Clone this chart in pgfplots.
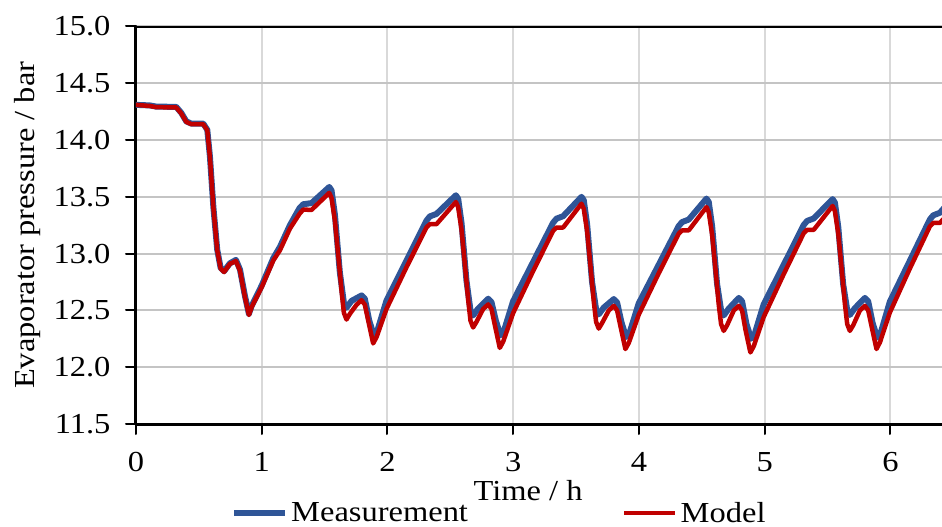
\documentclass[border=0pt]{standalone}
\usepackage{fontspec}
\setmainfont{Liberation Serif}[FakeStretch=1.12]
\usepackage{pgfplots}
\pgfplotsset{compat=1.18}
\definecolor{mblue}{RGB}{47,85,151}
\definecolor{mred}{RGB}{192,0,0}
\definecolor{vgrid}{RGB}{217,217,217}
\definecolor{hgrid}{RGB}{196,196,196}

\pgfplotstableread{
x y
0 14.310
0.11 14.305
0.16 14.295
0.32 14.292
0.36 14.240
0.40 14.165
0.44 14.145
0.535 14.145
0.567 14.090
0.588 13.855
0.615 13.415
0.646 13.035
0.673 12.875
0.700 12.845
0.747 12.915
0.795 12.945
0.827 12.860
0.866 12.630
0.898 12.470
0.920 12.540
1.000 12.720
1.092 12.960
1.145 13.060
1.224 13.250
1.300 13.400
1.330 13.435
1.396 13.445
1.537 13.587
1.555 13.557
1.582 13.342
1.621 12.837
1.653 12.569
1.674 12.524
1.714 12.584
1.794 12.632
1.820 12.602
1.855 12.410
1.892 12.280
1.919 12.320
1.992 12.587
2.151 12.938
2.310 13.291
2.337 13.328
2.390 13.350
2.544 13.514
2.562 13.484
2.589 13.269
2.628 12.764
2.660 12.501
2.681 12.456
2.721 12.516
2.801 12.603
2.827 12.573
2.862 12.410
2.899 12.280
2.926 12.319
2.999 12.581
3.158 12.926
3.317 13.272
3.344 13.308
3.397 13.330
3.543 13.500
3.561 13.470
3.588 13.255
3.627 12.750
3.659 12.510
3.680 12.465
3.720 12.525
3.800 12.600
3.826 12.570
3.861 12.395
3.898 12.265
3.925 12.303
3.998 12.562
4.157 12.902
4.316 13.243
4.343 13.278
4.396 13.300
4.537 13.485
4.555 13.455
4.582 13.240
4.621 12.735
4.653 12.501
4.674 12.456
4.714 12.516
4.794 12.610
4.820 12.580
4.855 12.380
4.892 12.250
4.919 12.289
4.992 12.554
5.151 12.902
5.310 13.252
5.337 13.288
5.390 13.310
5.540 13.480
5.558 13.450
5.585 13.235
5.624 12.730
5.656 12.505
5.677 12.460
5.717 12.520
5.797 12.610
5.823 12.580
5.858 12.390
5.895 12.260
5.922 12.301
5.995 12.576
6.154 12.937
6.313 13.300
6.340 13.337
6.393 13.360
6.450 13.430
}\measdata

\pgfplotstableread{
x y
0 14.310
0.11 14.300
0.16 14.290
0.32 14.287
0.36 14.235
0.40 14.160
0.44 14.140
0.535 14.140
0.567 14.087
0.588 13.850
0.615 13.410
0.646 13.030
0.673 12.868
0.700 12.838
0.747 12.910
0.795 12.935
0.827 12.850
0.866 12.620
0.898 12.460
0.920 12.530
1.000 12.705
1.092 12.940
1.145 13.030
1.224 13.220
1.300 13.350
1.330 13.388
1.396 13.385
1.537 13.535
1.555 13.490
1.582 13.290
1.608 12.990
1.635 12.670
1.653 12.480
1.674 12.420
1.701 12.470
1.754 12.550
1.794 12.590
1.820 12.550
1.847 12.410
1.886 12.210
1.913 12.265
1.992 12.513
2.151 12.880
2.310 13.231
2.337 13.260
2.390 13.260
2.544 13.455
2.562 13.410
2.589 13.210
2.615 12.910
2.642 12.590
2.660 12.410
2.681 12.350
2.708 12.400
2.761 12.513
2.801 12.553
2.827 12.513
2.854 12.370
2.893 12.170
2.920 12.225
2.999 12.476
3.158 12.846
3.317 13.200
3.344 13.230
3.397 13.230
3.543 13.440
3.561 13.395
3.588 13.195
3.614 12.895
3.641 12.575
3.659 12.400
3.680 12.340
3.707 12.390
3.760 12.500
3.800 12.540
3.826 12.500
3.853 12.360
3.892 12.160
3.919 12.214
3.998 12.462
4.157 12.827
4.316 13.176
4.343 13.205
4.396 13.205
4.537 13.410
4.555 13.365
4.582 13.165
4.608 12.865
4.635 12.545
4.653 12.380
4.674 12.320
4.701 12.370
4.754 12.500
4.794 12.540
4.820 12.500
4.847 12.330
4.886 12.130
4.913 12.186
4.992 12.442
5.151 12.819
5.310 13.180
5.337 13.210
5.390 13.210
5.540 13.420
5.558 13.375
5.585 13.175
5.611 12.875
5.638 12.555
5.656 12.380
5.677 12.320
5.704 12.370
5.757 12.500
5.797 12.540
5.823 12.500
5.850 12.360
5.889 12.160
5.916 12.218
5.995 12.481
6.154 12.868
6.313 13.239
6.340 13.270
6.393 13.270
6.450 13.340
}\modeldata

\begin{document}
\begin{tikzpicture}
\begin{axis}[
  at={(0pt,0pt)}, anchor=south west,
  scale only axis, width=806pt, height=397.5pt,
  xmin=0, xmax=6.41, ymin=11.5, ymax=15,
  xtick={0,1,2,3,4,5,6},
  ytick={11.5,12,12.5,13,13.5,14,14.5,15},
  axis lines*=left,
  axis line style={-, black, line width=3pt},
  tick align=outside,
  major tick length=10pt,
  tick style={black, line width=2pt},
  xmajorgrids, ymajorgrids,
  x grid style={vgrid, line width=2pt},
  y grid style={hgrid, line width=2pt},
  /pgf/number format/assume math mode=true,
  tick label style={font=\fontsize{29}{32}\selectfont},
  xticklabel style={yshift=-15pt},
  yticklabel style={xshift=-12pt, /pgf/number format/.cd, fixed, fixed zerofill, precision=1},
  label style={font=\fontsize{29}{32}\selectfont},
  xlabel={Time / h},
  ylabel={Evaporator pressure / bar},
  xlabel style={at={(axis description cs:0.4864,-0.1937)}, anchor=base},
  ylabel style={at={(axis description cs:-0.1253,0.5)}, anchor=base, rotate=0},
  legend columns=2,
  legend style={draw=none, fill=none, inner sep=0pt,
    at={(axis description cs:0.1179,-0.2239)}, anchor=west,
    font=\fontsize{29}{32}\selectfont,
    nodes={inner xsep=3pt, inner ysep=0pt},
    /tikz/every even column/.append style={column sep=143pt}},
  legend cell align=left,
  legend image code/.code={\draw[#1] (0pt,0pt) -- (51pt,0pt);},
  line join=round, line cap=round,
]
\addplot[mblue, line width=6pt] table[x=x,y=y] {\measdata};
\addlegendentry{\makebox[185pt][l]{Measurement}}
\addplot[mred, line width=4.5pt] table[x=x,y=y] {\modeldata};
\addlegendentry{\makebox[87pt][l]{Model}}
\draw[black, line width=3pt] (rel axis cs:0,1) -- (rel axis cs:1,1);
\end{axis}
\pgfresetboundingbox
\path[use as bounding box] (-136pt,-103pt) rectangle (806pt,424pt);
\end{tikzpicture}
\end{document}
